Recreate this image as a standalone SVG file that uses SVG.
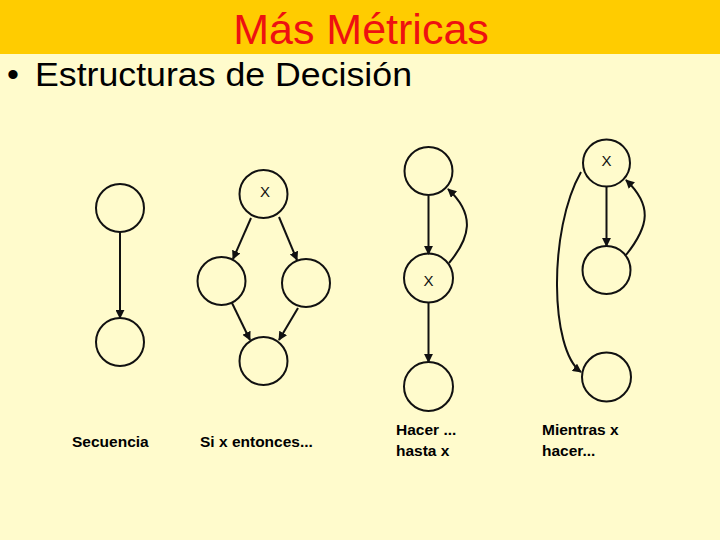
<svg xmlns="http://www.w3.org/2000/svg" width="720" height="540" viewBox="0 0 720 540">
<defs>
<marker id="ah" viewBox="0 0 10 10" refX="9" refY="5" markerWidth="4.5" markerHeight="4.5" orient="auto" markerUnits="strokeWidth">
<path d="M0,0 L10,5 L0,10 z" fill="#111"/>
</marker>
<style>
.n{fill:none;stroke:#111;stroke-width:2}
.e{fill:none;stroke:#111;stroke-width:2;marker-end:url(#ah)}
.x{font-family:"Liberation Sans",Arial,sans-serif;font-size:15px;fill:#111;text-anchor:middle}
.lb{font-family:"Liberation Sans",Arial,sans-serif;font-size:15.5px;font-weight:bold;fill:#000}
</style>
</defs>
<rect width="720" height="540" fill="#FFFBCC"/>
<rect width="720" height="54" fill="#FFCC00"/>
<text x="361" y="44" font-family="'Liberation Sans',Arial,sans-serif" font-size="43" fill="#EE1111" text-anchor="middle">Más Métricas</text>
<text x="7" y="86" font-family="'Liberation Sans',Arial,sans-serif" font-size="34" fill="#000">•</text>
<text x="35" y="86" font-family="'Liberation Sans',Arial,sans-serif" font-size="34" fill="#000" textLength="377" lengthAdjust="spacingAndGlyphs">Estructuras de Decisión</text>

<g id="seq1"><circle class="n" cx="120" cy="208" r="24"/></g>
<g id="seq2"><circle class="n" cx="120" cy="342" r="24"/></g>

<g id="if1"><circle class="n" cx="263.5" cy="194" r="24"/><text class="x" x="265" y="197">X</text></g>
<g id="if2"><circle class="n" cx="221.5" cy="281" r="24"/></g>
<g id="if3"><circle class="n" cx="306" cy="283" r="24"/></g>
<g id="if4"><circle class="n" cx="263.5" cy="361" r="24"/></g>

<g id="do1"><circle class="n" cx="428.5" cy="171" r="24"/></g>
<g id="do2"><circle class="n" cx="428.5" cy="278" r="24.5"/><text class="x" x="428.5" y="286">X</text></g>
<g id="do3"><circle class="n" cx="428.5" cy="386.5" r="24.5"/></g>

<g id="wh1"><circle class="n" cx="606.5" cy="163" r="23.5"/><text class="x" x="606.5" y="166">X</text></g>
<g id="wh2"><circle class="n" cx="606.5" cy="270" r="24"/></g>
<g id="wh3"><circle class="n" cx="606.5" cy="377" r="24.5"/></g>

<g id="connectors">
<line class="e" x1="120" y1="232" x2="120" y2="318"/>
<line class="e" x1="251" y1="218" x2="233" y2="259"/>
<line class="e" x1="279" y1="217" x2="297" y2="260"/>
<line class="e" x1="232" y1="303" x2="250" y2="340"/>
<line class="e" x1="298" y1="308" x2="279" y2="340"/>
<line class="e" x1="428.5" y1="196" x2="428.5" y2="254"/>
<line class="e" x1="428.5" y1="303" x2="428.5" y2="362"/>
<path class="e" d="M449,263 C470,238 476,215 448,189"/>
<line class="e" x1="606.5" y1="187" x2="606.5" y2="246"/>
<path class="e" d="M626,255 C650,225 652,205 626,180"/>
<path class="e" d="M581,172 C548,230 550,350 581,372"/>
</g>

<text class="lb" x="72" y="447">Secuencia</text>
<text class="lb" x="200" y="447">Si x entonces...</text>
<text class="lb" x="396" y="435">Hacer ...</text>
<text class="lb" x="396" y="456">hasta x</text>
<text class="lb" x="542" y="435">Mientras x</text>
<text class="lb" x="542" y="456">hacer...</text>
</svg>
